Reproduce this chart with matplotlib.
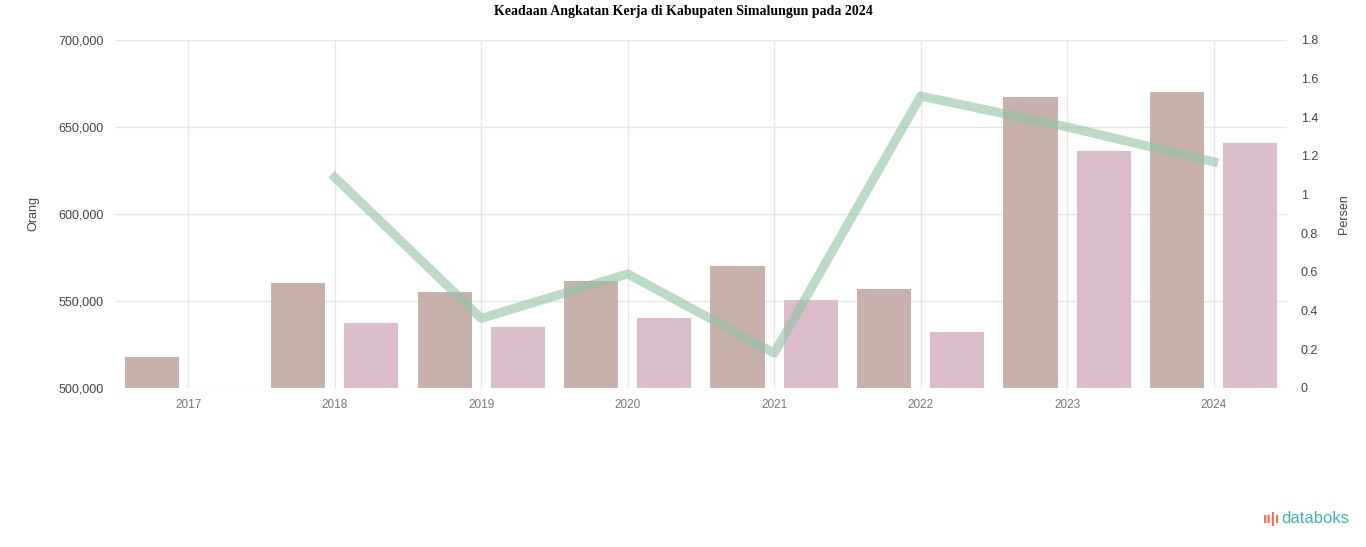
import numpy as np
import matplotlib.pyplot as plt

years = ['2017', '2018', '2019', '2020', '2021', '2022', '2023', '2024']
angkatan_kerja = [517800, 560300, 555200, 561500, 570100, 556900, 667200, 670100]
bekerja = [np.nan, 537400, 535100, 540200, 550600, 532200, 636200, 640800]
persen = [np.nan, 1.09, 0.36, 0.59, 0.18, 1.51, 1.35, 1.17]

left_ticks = [500000, 550000, 600000, 650000, 700000]
right_ticks = [0, 0.2, 0.4, 0.6, 0.8, 1, 1.2, 1.4, 1.6, 1.8]

plt.rcParams['font.family'] = ['Liberation Sans', 'DejaVu Sans']

fig = plt.figure(figsize=(13.66, 5.47), dpi=100)
ax = fig.add_axes([0.0842, 0.2907, 0.8579, 0.6362])
ax2 = ax.twinx()

x = np.arange(len(years))
w = 0.37
ax.bar(x - 0.25, angkatan_kerja, width=w, color='#c9b1ab', zorder=2)
ax.bar(x + 0.25, bekerja, width=w, color='#dbbccb', zorder=2)
ax.set_xlim(-0.5, len(years) - 0.5)
ax.set_ylim(left_ticks[0], left_ticks[-1])
ax.set_yticks(left_ticks)
ax.set_yticklabels([f'{v:,}' for v in left_ticks], fontsize=9, color='#444444')
ax.set_xticks(x)
ax.set_xticklabels(years, fontsize=8.5, color='#777777')
ax.grid(True, color='#e6e6e6', linewidth=1, zorder=0)
ax.set_axisbelow(True)
ax.tick_params(length=0, pad=8)
ax.set_ylabel('Orang', fontsize=9, color='#444444', labelpad=14)

ax2.plot(x, persen, color='#8fc4a0', linewidth=6.5, alpha=0.6, zorder=3)
ax2.set_ylim(0, 1.8)
ax2.set_yticks(right_ticks)
ax2.set_yticklabels([f'{v:g}' for v in right_ticks], fontsize=9, color='#444444')
ax2.tick_params(length=0, pad=10)
ax2.set_ylabel('Persen', fontsize=9, color='#444444', labelpad=14)

for a in (ax, ax2):
    for s in a.spines.values():
        s.set_visible(False)

fig.text(0.5, 0.99, 'Keadaan Angkatan Kerja di Kabupaten Simalungun pada 2024',
         ha='center', va='top', fontsize=10, fontweight='bold',
         family=['Liberation Serif', 'DejaVu Serif'])
fig.text(0.988, 0.052, 'databoks', ha='right', va='center', fontsize=12,
         color='#3fb4b0')
fig.text(0.937, 0.052, 'ıı|ı', ha='right', va='center', fontsize=11,
         color='#ef6c4a', fontweight='bold')

fig.savefig('out.png', dpi=100)
